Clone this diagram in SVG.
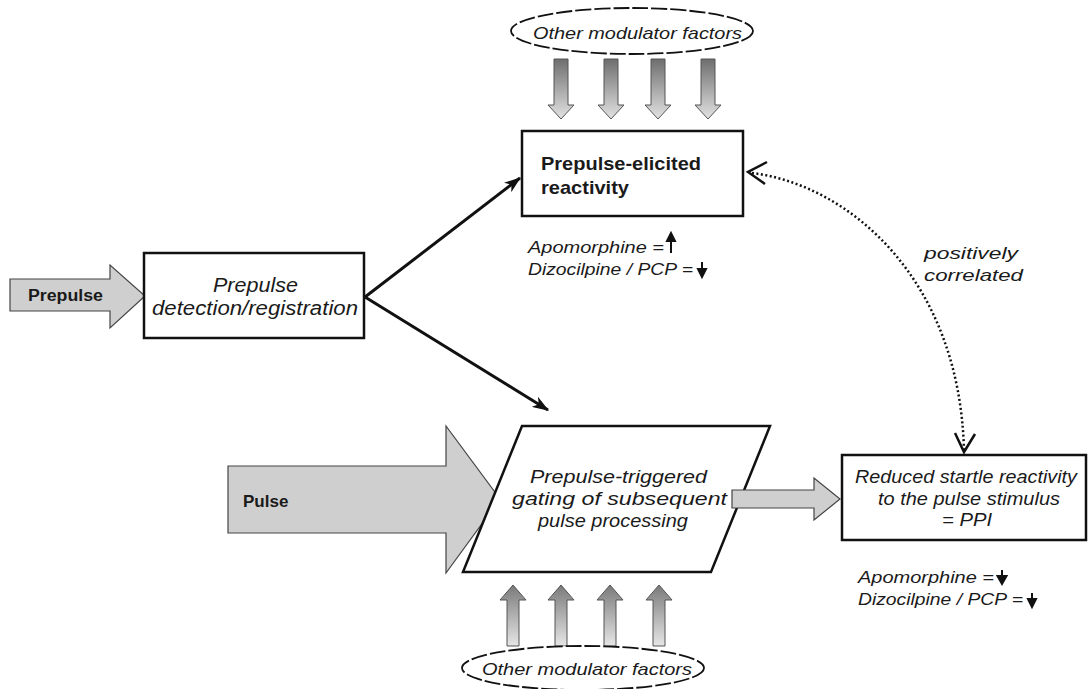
<svg xmlns="http://www.w3.org/2000/svg" width="1089" height="689" viewBox="0 0 1089 689">
<style>
.box{fill:#fff;stroke:#111;stroke-width:2.5}
.big{fill:#cfcfcf;stroke:#444;stroke-width:1.2}
.small{fill:url(#g);stroke:#555;stroke-width:1}
.ell{fill:#fff;stroke:#111;stroke-width:1.8;stroke-dasharray:16 3}
.t{font-family:"Liberation Sans",Arial,sans-serif;fill:#1a1a1a}
.it{font-style:italic}
.b{font-weight:bold}
.conn{fill:none;stroke:#111;stroke-width:3}
.dot{fill:none;stroke:#111;stroke-width:2.5;stroke-dasharray:2 2.5}
.open{fill:none;stroke:#111;stroke-width:2.5}
.sym{stroke:#111;stroke-width:2;fill:#111}
</style>
<defs>
<linearGradient id="g" x1="0" y1="0" x2="0" y2="1">
<stop offset="0" stop-color="#6e6e6e"/>
<stop offset="1" stop-color="#e2e2e2"/>
</linearGradient>
<linearGradient id="gu" x1="0" y1="0" x2="0" y2="1">
<stop offset="0" stop-color="#7a7a7a"/>
<stop offset="1" stop-color="#e6e6e6"/>
</linearGradient>
<marker id="ah" viewBox="0 0 14 10" refX="13" refY="5" markerWidth="17" markerHeight="12" markerUnits="userSpaceOnUse" orient="auto">
<path d="M0,0 L14,5 L0,10 L4,5 z" fill="#111"/>
</marker>
</defs>
<rect width="1089" height="689" fill="#fff"/>

<g id="connectors">
<line class="conn" x1="365" y1="297" x2="520" y2="178" marker-end="url(#ah)"/>
<line class="conn" x1="365" y1="297" x2="548" y2="410" marker-end="url(#ah)"/>
<path class="dot" d="M752,173 C850,185 960,280 964,451"/>
<polyline class="open" points="767,162 748,172 765,184"/>
<polyline class="open" points="955,433 964,452 975,434"/>
<text class="t it" x="924" y="259" font-size="17" textLength="94" lengthAdjust="spacingAndGlyphs">positively</text>
<text class="t it" x="924" y="281" font-size="17" textLength="99" lengthAdjust="spacingAndGlyphs">correlated</text>
</g>

<g id="prepulse-input">
<polygon class="big" points="10,279 110,279 110,265 145,296 110,328 110,311 10,311"/>
<text class="t b" x="28" y="301" font-size="16" textLength="75" lengthAdjust="spacingAndGlyphs">Prepulse</text>
</g>

<g id="pulse-input">
<polygon class="big" points="228,466 446,466 446,426 500,499 446,573 446,533 228,533"/>
<text class="t b" x="243" y="507" font-size="17">Pulse</text>
</g>

<g id="prepulse-detection">
<rect class="box" x="144" y="253" width="220" height="85"/>
<text class="t it" x="213" y="292" font-size="20" textLength="85" lengthAdjust="spacingAndGlyphs">Prepulse</text>
<text class="t it" x="152" y="315" font-size="20" textLength="206" lengthAdjust="spacingAndGlyphs">detection/registration</text>
</g>

<g id="top-modulators">
<ellipse class="ell" cx="632" cy="31" rx="121" ry="23"/>
<text class="t it" x="533" y="39" font-size="17" textLength="209" lengthAdjust="spacingAndGlyphs">Other modulator factors</text>
<polygon class="small" points="554,59 568,59 568,105 574,105 561,119 548,105 554,105"/>
<polygon class="small" points="604,59 618,59 618,105 624,105 611,119 598,105 604,105"/>
<polygon class="small" points="651,59 665,59 665,105 671,105 658,119 645,105 651,105"/>
<polygon class="small" points="701,59 715,59 715,105 721,105 708,119 695,105 701,105"/>
</g>

<g id="prepulse-elicited">
<rect class="box" x="522" y="131" width="221" height="85"/>
<text class="t b" x="541" y="170" font-size="19" textLength="160" lengthAdjust="spacingAndGlyphs" fill="#222">Prepulse-elicited</text>
<text class="t b" x="541" y="194" font-size="19" textLength="88" lengthAdjust="spacingAndGlyphs" fill="#222">reactivity</text>
<text class="t it" x="528" y="253" font-size="17" textLength="136" lengthAdjust="spacingAndGlyphs">Apomorphine =</text>
<text class="t it" x="528" y="275" font-size="17" textLength="165" lengthAdjust="spacingAndGlyphs">Dizocilpine / PCP =</text>
<line class="sym" x1="671" y1="240" x2="671" y2="253"/>
<polygon class="sym" points="667,241 671,233 675,241"/>
<line class="sym" x1="702" y1="262" x2="702" y2="270"/>
<polygon class="sym" points="698,269 702,277 706,269"/>
</g>

<g id="gating">
<polygon class="box" points="522,426 770,426 711,572 463,572"/>
<text class="t it" x="530" y="483" font-size="19" textLength="177" lengthAdjust="spacingAndGlyphs">Prepulse-triggered</text>
<text class="t it" x="512" y="505" font-size="19" textLength="215" lengthAdjust="spacingAndGlyphs">gating of subsequent</text>
<text class="t it" x="538" y="527" font-size="19" textLength="150" lengthAdjust="spacingAndGlyphs">pulse processing</text>
</g>

<g id="gating-output">
<polygon class="big" points="732,490 814,490 814,478 840,499 814,520 814,508 732,508"/>
</g>

<g id="bottom-modulators">
<polygon class="small" style="fill:url(#gu)" points="507,646 519,646 519,600 526,600 513,585 500,600 507,600"/>
<polygon class="small" style="fill:url(#gu)" points="555,646 567,646 567,600 574,600 561,585 548,600 555,600"/>
<polygon class="small" style="fill:url(#gu)" points="604,646 616,646 616,600 623,600 610,585 597,600 604,600"/>
<polygon class="small" style="fill:url(#gu)" points="653,646 665,646 665,600 672,600 659,585 646,600 653,600"/>
<ellipse class="ell" cx="583" cy="668" rx="121" ry="22"/>
<text class="t it" x="482" y="675" font-size="17" textLength="210" lengthAdjust="spacingAndGlyphs">Other modulator factors</text>
</g>

<g id="ppi">
<rect class="box" x="842" y="455" width="244" height="85"/>
<text class="t it" x="855" y="483" font-size="18" textLength="222" lengthAdjust="spacingAndGlyphs">Reduced startle reactivity</text>
<text class="t it" x="878" y="505" font-size="18" textLength="182" lengthAdjust="spacingAndGlyphs">to the pulse stimulus</text>
<text class="t it" x="942" y="526" font-size="18" textLength="50" lengthAdjust="spacingAndGlyphs">= PPI</text>
<text class="t it" x="858" y="583" font-size="17" textLength="136" lengthAdjust="spacingAndGlyphs">Apomorphine =</text>
<text class="t it" x="858" y="605" font-size="17" textLength="165" lengthAdjust="spacingAndGlyphs">Dizocilpine / PCP =</text>
<line class="sym" x1="1002" y1="570" x2="1002" y2="577"/>
<polygon class="sym" points="997.5,576 1002,584 1006.5,576"/>
<line class="sym" x1="1032" y1="593" x2="1032" y2="600"/>
<polygon class="sym" points="1028,599 1032,607 1036,599"/>
</g>
</svg>
